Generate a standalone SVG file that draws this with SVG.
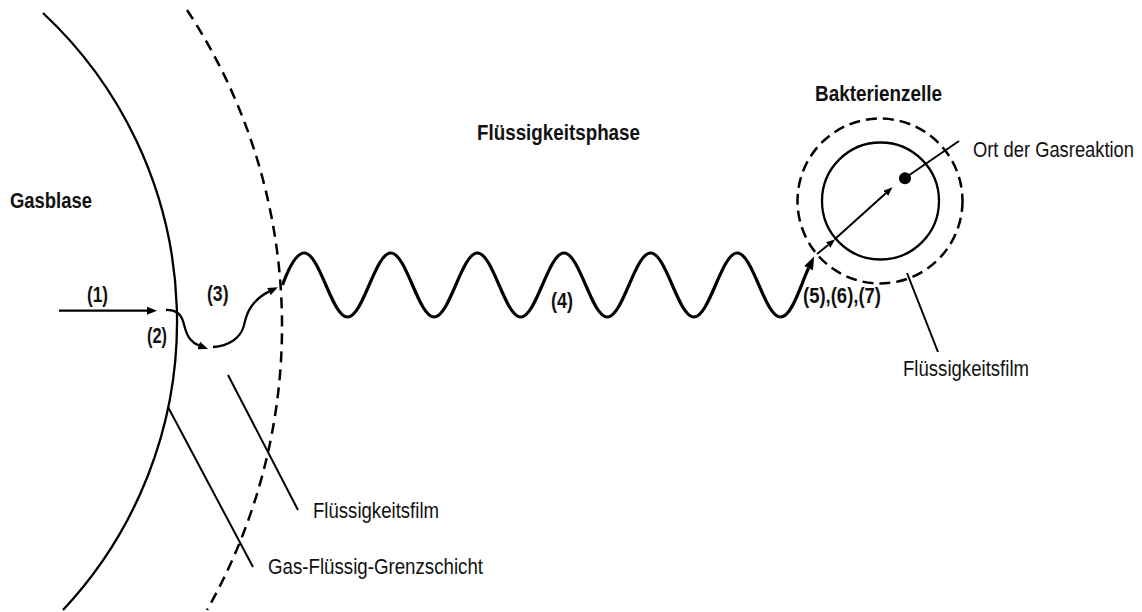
<svg xmlns="http://www.w3.org/2000/svg" width="1142" height="612" viewBox="0 0 1142 612">
<style>
text{font-family:'Liberation Sans',Arial,sans-serif;fill:#111;font-size:22px}
.b{font-weight:bold}
.ln{fill:none;stroke:#000;stroke-width:2.3}
.dash{fill:none;stroke:#000;stroke-width:2.5;stroke-dasharray:11 7}
.wave{fill:none;stroke:#000;stroke-width:3.2}
.thin{fill:none;stroke:#000;stroke-width:2}
</style>
<defs>
<marker id="ah" markerUnits="userSpaceOnUse" markerWidth="10" markerHeight="8" refX="0" refY="4" orient="auto" viewBox="0 0 10 8"><path d="M0,0 L10,4 L0,8 z" fill="#000"/></marker>
<marker id="ahs" markerUnits="userSpaceOnUse" markerWidth="9" markerHeight="7" refX="0" refY="3.5" orient="auto" viewBox="0 0 9 7"><path d="M0,0 L9,3.5 L0,7 z" fill="#000"/></marker>
<marker id="ahb" markerUnits="userSpaceOnUse" markerWidth="13" markerHeight="10" refX="0" refY="5" orient="auto" viewBox="0 0 13 10"><path d="M0,0 L13,5 L0,10 z" fill="#000"/></marker>
</defs>
<rect width="1142" height="612" fill="#fff"/>
<g id="gasblase">
<path class="ln" d="M43 13 A422 422 0 0 1 63 610"/>
<text class="b" x="10" y="208" textLength="82" lengthAdjust="spacingAndGlyphs">Gasblase</text>
</g>
<g id="fluessigkeitsfilm-links">
<path class="dash" d="M187 10 A574 574 0 0 1 207 610"/>
</g>
<g id="fluessigkeitsphase">
<text class="b" x="477" y="140" textLength="163" lengthAdjust="spacingAndGlyphs">Flüssigkeitsphase</text>
</g>
<g id="bakterienzelle">
<text class="b" x="815" y="101" textLength="127" lengthAdjust="spacingAndGlyphs">Bakterienzelle</text>
<circle class="dash" cx="880" cy="201" r="82.5" style="stroke-dasharray:11 6"/>
<circle class="ln" cx="880.5" cy="201" r="58.5"/>
<circle cx="905" cy="178.3" r="6" fill="#000"/>
</g>
<g id="labels">
<text x="973" y="157" textLength="161" lengthAdjust="spacingAndGlyphs">Ort der Gasreaktion</text>
<text x="903" y="376" textLength="126" lengthAdjust="spacingAndGlyphs">Flüssigkeitsfilm</text>
<text x="313" y="518" textLength="126" lengthAdjust="spacingAndGlyphs">Flüssigkeitsfilm</text>
<text x="268" y="574" textLength="215" lengthAdjust="spacingAndGlyphs">Gas-Flüssig-Grenzschicht</text>
<text class="b" x="87" y="302" textLength="21" lengthAdjust="spacingAndGlyphs">(1)</text>
<text class="b" x="147" y="343" textLength="20" lengthAdjust="spacingAndGlyphs">(2)</text>
<text class="b" x="207" y="301" textLength="21.5" lengthAdjust="spacingAndGlyphs">(3)</text>
<text class="b" x="551" y="308" textLength="22" lengthAdjust="spacingAndGlyphs">(4)</text>
<text class="b" x="803" y="303" textLength="78" lengthAdjust="spacingAndGlyphs">(5),(6),(7)</text>
</g>
<g id="connectors">
<path class="ln" d="M59 310.7 H147" marker-end="url(#ah)"/>
<path class="ln" d="M166 310 C176 309.5 181 315 183 321 C185 328 186 334 190 339 C192.5 342 195.5 344.2 198.7 345.4" marker-end="url(#ah)"/>
<path class="ln" d="M213 347 C229 346 240 338 243.5 327 C245.5 320 246 314 251 307 C255 301 261 295.5 268.9 291.6" marker-end="url(#ah)"/>
<path class="wave" d="M282.5 285 C288 270 296 253 304.2 253 C319.9 253 331.8 317 347.5 317 S375.1 253 390.8 253 S418.4 317 434.1 317 S461.7 253 477.4 253 S505 317 520.7 317 S548.3 253 564 253 S591.6 317 607.3 317 S634.9 253 650.6 253 S678.2 317 693.9 317 S721.5 253 737.2 253 S764.8 317 780.5 317 C792 317 801 284 808.5 268.3" marker-end="url(#ahb)"/>
<path class="thin" d="M817 254 L828.2 245" marker-end="url(#ahs)"/>
<path class="thin" d="M835 239 L885.8 193.3" marker-end="url(#ahs)"/>
<path class="thin" d="M905 178 L959 141"/>
<path class="thin" d="M907 273 L938 352"/>
<path class="thin" d="M168 407 L253 567"/>
<path class="thin" d="M228 375 L298 510"/>
</g>
</svg>
